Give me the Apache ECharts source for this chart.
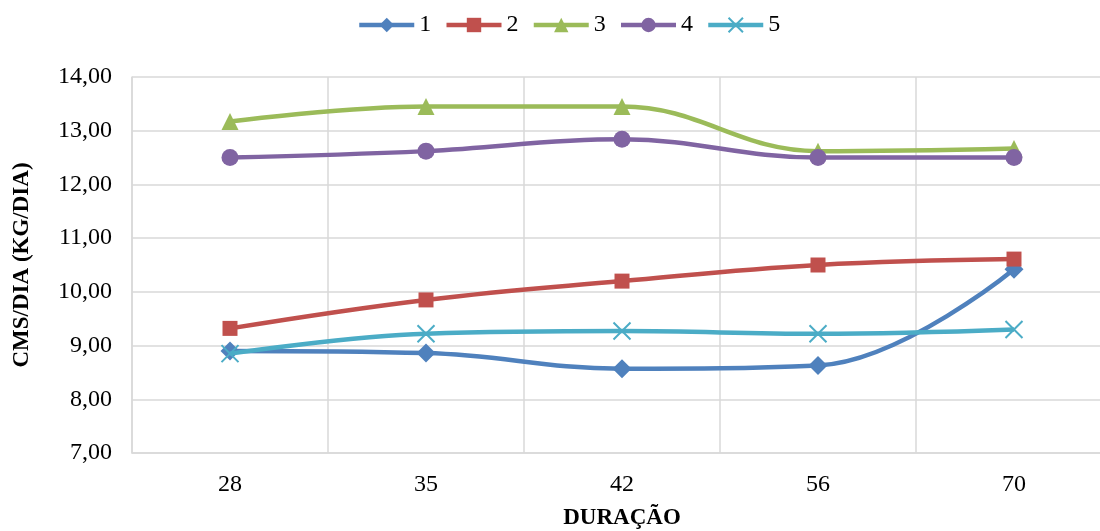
<!DOCTYPE html>
<html>
<head>
<meta charset="utf-8">
<script src="https://cdn.jsdelivr.net/npm/echarts@6/dist/echarts.min.js"></script>
<style>
html,body{margin:0;padding:0;background:#fff;}
#chart{width:1100px;height:531px;}
</style>
</head>
<body>
<div id="chart"></div>
<script>
const categories = ['28', '35', '42', '56', '70'];
const seriesNames = ['1', '2', '3', '4', '5'];
const s1 = [8.90, 8.86, 8.57, 8.63, 10.42];
const s2 = [9.32, 9.85, 10.20, 10.50, 10.61];
const s3 = [13.17, 13.45, 13.45, 12.62, 12.67];
const s4 = [12.50, 12.62, 12.84, 12.50, 12.50];
const s5 = [8.85, 9.22, 9.27, 9.22, 9.30];
const yTicks = [7, 8, 9, 10, 11, 12, 13, 14];

const colors = ['#4f81bd', '#c0504d', '#9bbb59', '#8064a2', '#4bacc6'];
const symbols = ['diamond', 'rect', 'triangle', 'circle', 'path://M0,0L10,10M10,0L0,10'];
const sizes = [19, 15, 17, 17, 17];
const data = [s1, s2, s3, s4, s5];
const FONT = '"Liberation Serif", "Times New Roman", serif';

const chart = echarts.init(document.getElementById('chart'), null, {renderer: 'canvas'});
const series = data.map((d, i) => {
  const isCross = i === 4;
  return {
    name: seriesNames[i],
    type: 'line',
    data: d,
    smooth: 0.4,
    symbol: symbols[i],
    symbolSize: sizes[i],
    lineStyle: {color: colors[i], width: 4.5},
    itemStyle: isCross
      ? {color: 'rgba(0,0,0,0)', borderColor: colors[i], borderWidth: 2}
      : {color: colors[i], borderWidth: 0},
    emphasis: {disabled: true},
    z: 2 + i
  };
});

chart.setOption({
  animation: false,
  textStyle: {fontFamily: FONT},
  legend: {
    top: 8,
    left: 352,
    itemWidth: 55,
    itemHeight: 18,
    itemGap: 13,
    lineStyle: {width: 4.5},
    textStyle: {fontFamily: FONT, fontSize: 24, color: '#000'},
    data: seriesNames
  },
  grid: {left: 132, width: 980, top: 77, height: 376, containLabel: false, outerBoundsMode: 'none'},
  xAxis: {
    type: 'category',
    data: categories,
    boundaryGap: true,
    axisTick: {show: false},
    axisLine: {lineStyle: {color: '#d9d9d9', width: 1.5}},
    splitLine: {show: true, lineStyle: {color: '#d9d9d9', width: 1.5}},
    axisLabel: {fontFamily: FONT, fontSize: 24, color: '#000', margin: 20},
    name: 'DURAÇÃO',
    nameLocation: 'middle',
    nameGap: 54,
    nameTextStyle: {fontFamily: FONT, fontSize: 23, fontWeight: 'bold', color: '#000'}
  },
  yAxis: {
    type: 'value',
    min: yTicks[0],
    max: yTicks[yTicks.length - 1],
    interval: 1,
    axisLine: {show: true, lineStyle: {color: '#d9d9d9', width: 1.5}},
    axisTick: {show: false},
    splitLine: {show: true, lineStyle: {color: '#d9d9d9', width: 1.5}},
    axisLabel: {
      fontFamily: FONT, fontSize: 24, color: '#000', margin: 20,
      formatter: v => v.toFixed(2).replace('.', ',')
    },
    name: 'CMS/DIA (KG/DIA)',
    nameLocation: 'middle',
    nameGap: 98,
    nameTextStyle: {fontFamily: FONT, fontSize: 23, fontWeight: 'bold', color: '#000'}
  },
  series: series
});
</script>
</body>
</html>
